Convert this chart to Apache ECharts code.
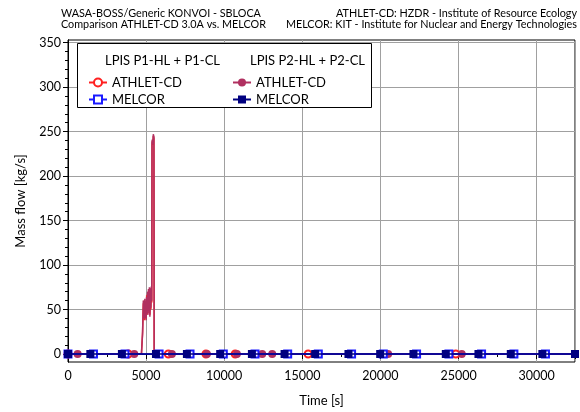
<!DOCTYPE html>
<html>
<head>
<meta charset="utf-8">
<script src="https://cdn.jsdelivr.net/npm/echarts@6/dist/echarts.min.js"></script>
<style>
  html, body { margin: 0; padding: 0; background: #ffffff; }
  #chart { width: 580px; height: 412px; }
</style>
</head>
<body>
<div id="chart"></div>
<script>
// Axis ranges and ticks
const timeMax = 32450;
const flowMin = -9;
const flowMax = 353;
const flowTicks = [0, 50, 100, 150, 200, 250, 300, 350];
const flowMinorTicks = [10, 20, 30, 40, 60, 70, 80, 90, 110, 120, 130, 140, 160, 170, 180, 190,
  210, 220, 230, 240, 260, 270, 280, 290, 310, 320, 330, 340];

// Output times carrying a marker (flow is zero there) [s]
const athletP1MarkerTimes = [0, 3860, 6420, 8830, 10700, 15370, 24820];
const athletP2MarkerTimes = [616, 4240, 6650, 8890, 10810, 12430, 13070, 20490, 25200];
const melcorP2MarkerTimes = [0, 1430, 3450, 5630, 7610, 9740, 11770, 13860, 15820, 17950,
  19980, 22110, 24180, 26270, 28340, 30360, 32450];
const melcorP1MarkerTimes = [0, 1630, 3650, 5830, 7810, 9940, 11970, 14060, 16020, 18150,
  20180, 22310, 24380, 26470, 28540, 30560];

// LPIS injection transient around 5000 s: [time s, mass flow kg/s]
const athletP1Spike = [[4700, 0], [4745, 0], [4775, 25], [4800, 44], [4825, 57], [4850, 42], [4875, 60],
  [4900, 38], [4925, 59], [4955, 45], [4980, 56], [5005, 40], [5035, 66], [5065, 44], [5095, 68],
  [5125, 46], [5155, 71], [5185, 50], [5215, 73], [5245, 44], [5275, 72], [5305, 50], [5335, 74],
  [5365, 58], [5380, 236], [5405, 240], [5435, 235], [5462, 245], [5482, 246], [5500, 242], [5518, 0]];
const athletP2Spike = [[4700, 0], [4740, 0], [4770, 22], [4800, 42], [4820, 60], [4845, 44], [4870, 58],
  [4895, 40], [4920, 62], [4950, 47], [4975, 54], [5000, 38], [5030, 64], [5060, 46], [5090, 70],
  [5120, 44], [5150, 73], [5180, 48], [5210, 75], [5240, 42], [5270, 74], [5300, 52], [5330, 76],
  [5360, 60], [5375, 238], [5400, 241], [5430, 236], [5460, 247], [5480, 248], [5500, 244], [5515, 0]];

// Merge marker points (zero flow, symbol shown) with unmarked transient points
function buildSeriesData(markerTimes, spike) {
  const pts = markerTimes.map(t => ({ value: [t, 0] }));
  spike.forEach(p => pts.push({ value: p, symbol: 'none' }));
  const last = pts.reduce((m, p) => Math.max(m, p.value[0]), 0);
  if (last < timeMax) pts.push({ value: [timeMax, 0], symbol: 'none' });
  pts.sort((a, b) => a.value[0] - b.value[0]);
  return pts;
}

const FONT = 'Lato';
const chart = echarts.init(document.getElementById('chart'), null, { renderer: 'canvas' });

function lineSeries(name, color, symbol, data, z) {
  const hollow = symbol.indexOf('empty') === 0;
  return {
    name: name,
    type: 'line',
    data: data,
    symbol: symbol,
    symbolSize: hollow ? 7 : 8,
    showSymbol: true,
    showAllSymbol: true,
    clip: false,
    z: z,
    animation: false,
    lineStyle: { color: color, width: 1.5 },
    itemStyle: { color: color, borderColor: color, borderWidth: hollow ? 1.3 : 0 },
    emphasis: { disabled: true }
  };
}

const legendText = { fontFamily: FONT, fontSize: 13, color: '#000' };
const stripPrefix = name => name.replace(/^P\d /, '');
const headerFont = '10.8px ' + FONT;

chart.setOption({
  animation: false,
  backgroundColor: '#ffffff',
  grid: {
    left: 68, right: 5, top: 40, bottom: 47,
    show: true, borderColor: '#000', borderWidth: 1, backgroundColor: 'transparent'
  },
  xAxis: {
    type: 'value',
    min: 0, max: timeMax, interval: 5000,
    name: 'Time [s]', nameLocation: 'middle', nameGap: 32,
    nameTextStyle: { fontFamily: FONT, fontSize: 13, color: '#000' },
    axisLine: { show: true, lineStyle: { color: '#000', width: 1 } },
    axisTick: { show: true, inside: false, length: 5, lineStyle: { color: '#000' } },
    minorTick: { show: true, splitNumber: 2, length: 3, lineStyle: { color: '#000' } },
    axisLabel: { fontFamily: FONT, fontSize: 12.5, color: '#000', margin: 7, showMaxLabel: false,
      formatter: v => String(v) },
    splitLine: { show: true, lineStyle: { color: '#a0a0a0', width: 1 } }
  },
  yAxis: [{
    type: 'value',
    min: flowMin, max: flowMax,
    name: 'Mass flow [kg/s]', nameLocation: 'middle', nameGap: 41,
    nameTextStyle: { fontFamily: FONT, fontSize: 13, color: '#000' },
    axisLine: { show: true, lineStyle: { color: '#000', width: 1 } },
    axisTick: { show: true, inside: false, length: 5, customValues: flowTicks, lineStyle: { color: '#000' } },
    axisLabel: { fontFamily: FONT, fontSize: 12.5, color: '#000', margin: 7, customValues: flowTicks,
      formatter: v => String(v) },
    splitLine: { show: true, lineStyle: { color: '#a0a0a0', width: 1 } }
  }, {
    type: 'value',
    position: 'left',
    min: flowMin, max: flowMax,
    axisLine: { show: true, lineStyle: { color: '#000', width: 1 } },
    axisTick: { show: true, inside: false, length: 3, customValues: flowMinorTicks, lineStyle: { color: '#000' } },
    axisLabel: { show: false },
    splitLine: { show: false }
  }],
  legend: [{
    orient: 'vertical', left: 83, top: 71, itemWidth: 18, itemHeight: 10, itemGap: 4,
    textStyle: legendText, formatter: stripPrefix, selectedMode: false, z: 20,
    data: ['P1 ATHLET-CD', 'P1 MELCOR']
  }, {
    orient: 'vertical', left: 227, top: 71, itemWidth: 18, itemHeight: 10, itemGap: 4,
    textStyle: legendText, formatter: stripPrefix, selectedMode: false, z: 20,
    data: ['P2 ATHLET-CD', 'P2 MELCOR']
  }],
  graphic: [
    { type: 'rect', z: 10, shape: { x: 77.5, y: 43.5, width: 294, height: 64 },
      style: { fill: '#ffffff', stroke: '#000', lineWidth: 1 } },
    { type: 'text', z: 20, x: 105, y: 61,
      style: { text: 'LPIS P1-HL + P1-CL', font: '13px ' + FONT, fill: '#000', verticalAlign: 'middle' } },
    { type: 'text', z: 20, x: 250, y: 61,
      style: { text: 'LPIS P2-HL + P2-CL', font: '13px ' + FONT, fill: '#000', verticalAlign: 'middle' } },
    { type: 'text', z: 20, x: 61, y: 14,
      style: { text: 'WASA-BOSS/Generic KONVOI - SBLOCA', font: headerFont, fill: '#000', verticalAlign: 'middle' } },
    { type: 'text', z: 20, x: 61, y: 25,
      style: { text: 'Comparison ATHLET-CD 3.0A vs. MELCOR', font: headerFont, fill: '#000', verticalAlign: 'middle' } },
    { type: 'text', z: 20, x: 577, y: 14,
      style: { text: 'ATHLET-CD: HZDR - Institute of Resource Ecology', font: headerFont, fill: '#000', align: 'right', verticalAlign: 'middle' } },
    { type: 'text', z: 20, x: 577, y: 25,
      style: { text: 'MELCOR: KIT - Institute for Nuclear and Energy Technologies', font: headerFont, fill: '#000', align: 'right', verticalAlign: 'middle' } }
  ],
  series: [
    lineSeries('P1 ATHLET-CD', '#ff2020', 'emptyCircle', buildSeriesData(athletP1MarkerTimes, athletP1Spike), 2),
    lineSeries('P2 ATHLET-CD', '#b03060', 'circle', buildSeriesData(athletP2MarkerTimes, athletP2Spike), 3),
    lineSeries('P1 MELCOR', '#1a1aff', 'emptyRect', buildSeriesData(melcorP1MarkerTimes, []), 4),
    lineSeries('P2 MELCOR', '#000080', 'rect', buildSeriesData(melcorP2MarkerTimes, []), 5)
  ]
});
</script>
</body>
</html>
